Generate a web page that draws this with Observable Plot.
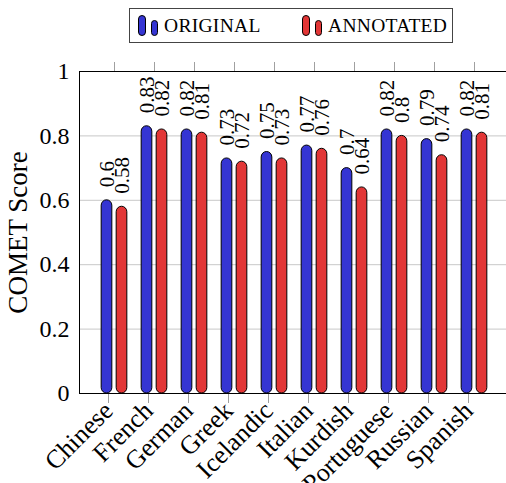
<!DOCTYPE html>
<html>
<head>
<meta charset="utf-8">
<script src="https://cdn.jsdelivr.net/npm/d3@7"></script>
<script src="https://cdn.jsdelivr.net/npm/@observablehq/plot@0.6"></script>
<style>
  html, body { margin: 0; padding: 0; background: white; overflow: hidden; width: 506px; height: 483px; }
  #legend { position: relative; height: 50px; width: 506px; font-family: "Liberation Serif", "DejaVu Serif", serif; }
  #legend .box { position: absolute; left: 129px; top: 8px; width: 324px; height: 35px; border: 1px solid #444; box-sizing: border-box; }
  .item { position: absolute; top: 0; height: 35px; }
  .pill { position: absolute; border: 1px solid #000; border-radius: 5px; box-sizing: border-box; }
  .lbl { position: absolute; top: 6px; font-size: 19.5px; white-space: nowrap; letter-spacing: 0.3px; }
  #chart svg text { font-family: "Liberation Serif", "DejaVu Serif", serif !important; font-variant: normal !important; }
</style>
</head>
<body>
<div id="legend"></div>
<div id="chart"></div>
<script>
const languages = ["Chinese", "French", "German", "Greek", "Icelandic", "Italian", "Kurdish", "Portuguese", "Russian", "Spanish"];
const original  = [0.6, 0.83, 0.82, 0.73, 0.75, 0.77, 0.7, 0.82, 0.79, 0.82];
const annotated = [0.58, 0.82, 0.81, 0.72, 0.73, 0.76, 0.64, 0.8, 0.74, 0.81];
const seriesNames = ["ORIGINAL", "ANNOTATED"];
const yTicks = [0, 0.2, 0.4, 0.6, 0.8, 1];

const blue = "#3535d3";
const red = "#e23636";
const colors = [blue, red];

const table = languages.map((lang, i) => ({lang, orig: original[i], ann: annotated[i]}));

// Legend (HTML, above the SVG)
const legend = document.getElementById("legend");
const box = document.createElement("div");
box.className = "box";
legend.appendChild(box);
const itemX = [8, 172];
seriesNames.forEach((name, k) => {
  const item = document.createElement("div");
  item.className = "item";
  item.style.left = itemX[k] + "px";
  const p1 = document.createElement("div");
  p1.className = "pill";
  Object.assign(p1.style, {left: "0px", top: "6px", width: "8px", height: "21px", background: colors[k]});
  const p2 = document.createElement("div");
  p2.className = "pill";
  Object.assign(p2.style, {left: "13px", top: "11px", width: "7px", height: "16px", background: colors[k]});
  const t = document.createElement("div");
  t.className = "lbl";
  t.style.left = "26px";
  t.textContent = name;
  item.append(p1, p2, t);
  box.appendChild(item);
});

const W = 506, H = 433;
const mL = 79, mT = 21, mB = 90;
const step = (475 - 112) / 9;
const x0 = 112 - step / 2;
const barW = 11;
const inset = (step - barW) / 2;
const off = 7.5;

const chart = Plot.plot({
  width: W,
  height: H,
  marginLeft: mL,
  marginTop: mT,
  marginBottom: mB,
  marginRight: -12,
  style: {background: "white", overflow: "hidden"},
  x: {type: "band", domain: languages, range: [x0, x0 + step * languages.length], padding: 0},
  y: {domain: [0, 1]},
  marks: [
    Plot.gridY(yTicks.slice(1, -1), {stroke: "#c8c8c8", strokeOpacity: 1}),
    Plot.axisY(yTicks, {
      tickSize: 0, tickPadding: 10, fontSize: 24,
      tickFormat: d => (d === 0 || d === 1) ? String(d) : d.toFixed(1),
      label: null
    }),
    Plot.axisY(yTicks, {
      tickSize: 0, tickFormat: () => "", fontSize: 27, dy: -8,
      label: "COMET Score", labelAnchor: "center", labelOffset: 72, labelArrow: "none"
    }),
    Plot.axisX({
      anchor: "bottom", tickSize: 10, stroke: "#a0a0a0", tickRotate: -45, fontSize: 26,
      tickPadding: 3, dx: -6, label: null, fill: "black"
    }),
    Plot.axisX({
      anchor: "top", tickSize: 10, stroke: "#a0a0a0", tickFormat: () => "", label: null
    }),
    Plot.barY(table, {x: "lang", y: "orig", fill: blue, stroke: "black", strokeWidth: 1, rx: 5.5, insetLeft: inset, insetRight: inset, dx: -off}),
    Plot.barY(table, {x: "lang", y: "ann", fill: red, stroke: "black", strokeWidth: 1, rx: 5.5, insetLeft: inset, insetRight: inset, dx: off}),
    Plot.text(table, {x: "lang", y: "orig", text: d => String(d.orig), rotate: -90, textAnchor: "start", dx: -off, dy: -13, fontSize: 21, fill: "black"}),
    Plot.text(table, {x: "lang", y: "ann", text: d => String(d.ann), rotate: -90, textAnchor: "start", dx: off, dy: -13, fontSize: 21, fill: "black"}),
    Plot.frame({stroke: "black", strokeWidth: 1})
  ]
});
document.getElementById("chart").appendChild(chart);
</script>
</body>
</html>
